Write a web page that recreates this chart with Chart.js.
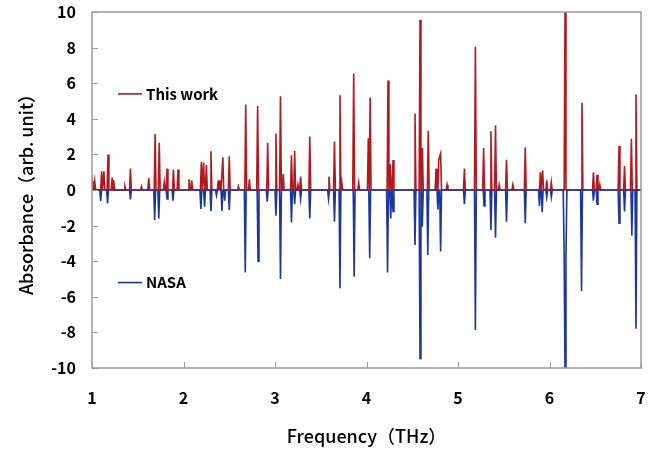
<!DOCTYPE html>
<html><head><meta charset="utf-8">
<script src="https://cdn.jsdelivr.net/npm/chart.js@4.4.1/dist/chart.umd.min.js"></script>
<style>html,body{margin:0;padding:0;background:#fff}#wrap{width:648px;height:454px}</style>
</head><body><div id="wrap"><canvas id="c" width="648" height="454"></canvas></div>
<script>
// ---- data ----
const seriesNames = ['This work', 'NASA'];
const xTicks = [1, 2, 3, 4, 5, 6, 7];
const yTicks = [-10, -8, -6, -4, -2, 0, 2, 4, 6, 8, 10];

const thisWorkFreq = [1.00,1.03,1.105,1.13,1.175,1.22,1.24,1.36,1.42,1.54,1.62,1.69,1.735,1.79,1.82,1.89,1.94,2.06,2.09,2.195,2.22,2.25,2.30,2.38,2.40,2.43,2.50,2.60,2.68,2.72,2.81,2.92,3.01,3.06,3.09,3.18,3.215,3.25,3.28,3.38,3.59,3.65,3.71,3.73,3.86,3.915,4.02,4.04,4.235,4.26,4.29,4.53,4.585,4.61,4.675,4.76,4.79,4.81,4.88,5.07,5.19,5.28,5.36,5.41,5.45,5.53,5.60,5.735,5.90,5.925,5.97,6.02,6.17,6.355,6.48,6.52,6.55,6.76,6.82,6.895,6.945];
const thisWorkAbs  = [0.5,0.5,1.05,1.05,2.0,0.7,0.55,0.2,1.2,0.2,0.67,3.15,2.66,0.45,1.2,1.15,1.15,0.6,0.55,1.57,1.55,1.4,2.17,0.55,0.55,1.84,1.9,0.2,4.8,0.6,4.72,2.66,3.18,5.26,0.9,1.95,2.2,0.3,0.75,3.0,0.75,2.73,5.32,0.4,6.55,0.4,2.9,5.2,6.15,1.45,1.69,4.3,9.57,2.36,3.33,1.2,1.7,2.05,0.3,1.2,8.05,2.36,3.3,3.63,0.3,1.7,0.3,2.4,1.0,1.1,0.55,0.45,10.5,4.9,1.0,0.85,0.3,2.47,1.35,2.88,5.36];

const nasaFreq = [1.095,1.17,1.42,1.685,1.73,1.82,1.885,2.19,2.23,2.30,2.36,2.42,2.45,2.50,2.675,2.815,2.915,3.01,3.06,3.18,3.215,3.28,3.38,3.585,3.65,3.71,3.865,4.035,4.23,4.265,4.29,4.53,4.585,4.61,4.67,4.78,4.81,5.07,5.19,5.285,5.36,5.41,5.53,5.735,5.89,5.92,5.97,6.02,6.16,6.17,6.18,6.35,6.48,6.52,6.76,6.82,6.90,6.945];
const nasaAbs  = [-0.62,-0.75,-0.53,-1.69,-1.6,-0.5,-0.6,-1.07,-0.94,-1.18,-0.3,-1.18,-0.6,-1.12,-4.63,-4.0,-0.65,-1.44,-5.0,-1.82,-0.8,-0.5,-1.6,-0.5,-1.78,-5.52,-4.87,-3.84,-4.63,-1.6,-1.2,-3.09,-9.46,-2.06,-3.65,-1.1,-3.46,-0.8,-7.87,-0.9,-2.25,-2.68,-1.78,-1.87,-0.9,-1.25,-0.4,-0.4,-3.6,-10.5,-3.6,-5.67,-0.6,-0.8,-1.87,-1.2,-2.57,-7.8];

// ---- build line traces (spike shape is a style constant) ----
const HALF_WIDTH = 0.01;
function buildTrace(freqs, vals) {
  const pts = [{x: xTicks[0], y: 0}];
  for (let i = 0; i < freqs.length; i++) {
    const f = freqs[i];
    const prev = i > 0 ? freqs[i - 1] : -Infinity;
    const next = i < freqs.length - 1 ? freqs[i + 1] : Infinity;
    if (f - prev > 2 * HALF_WIDTH) pts.push({x: f - HALF_WIDTH, y: 0});
    pts.push({x: f, y: vals[i]});
    if (next - f > 2 * HALF_WIDTH) pts.push({x: f + HALF_WIDTH, y: 0});
  }
  pts.push({x: xTicks[xTicks.length - 1], y: 0});
  return pts;
}

const RED = '#b01a1c', BLUE = '#1a3799';
const FONT = '"Noto Sans CJK JP", "Noto Sans", "Liberation Sans", sans-serif';

const framePlugin = {
  id: 'frame',
  afterDatasetsDraw(chart) {
    const {ctx, chartArea: a, scales} = chart;
    ctx.save();
    ctx.strokeStyle = '#9a9a9a';
    ctx.lineWidth = 1.5;
    ctx.strokeRect(a.left, a.top, a.right - a.left, a.bottom - a.top);
    ctx.lineWidth = 1;
    ctx.beginPath();
    yTicks.forEach(v => { const y = Math.round(scales.y.getPixelForValue(v)) + 0.5; ctx.moveTo(a.left, y); ctx.lineTo(a.left + 6, y); });
    xTicks.forEach(v => { const x = Math.round(scales.x.getPixelForValue(v)) + 0.5; ctx.moveTo(x, a.bottom); ctx.lineTo(x, a.bottom - 6); });
    ctx.stroke();
    // legend entries placed inside the plot
    const spots = [{ds: 0, yv: 5.4}, {ds: 1, yv: -5.2}];
    ctx.font = 'bold 15px ' + FONT;
    ctx.textBaseline = 'middle';
    ctx.fillStyle = '#000';
    spots.forEach(s => {
      const ds = chart.data.datasets[s.ds];
      const y = scales.y.getPixelForValue(s.yv);
      ctx.strokeStyle = ds.borderColor;
      ctx.lineWidth = 1.6;
      ctx.beginPath(); ctx.moveTo(a.left + 26, y); ctx.lineTo(a.left + 50, y); ctx.stroke();
      ctx.fillText(ds.label, a.left + 54, y);
    });
    ctx.restore();
  }
};

new Chart(document.getElementById('c'), {
  type: 'line',
  data: {
    datasets: [
      {label: seriesNames[0], data: buildTrace(thisWorkFreq, thisWorkAbs), borderColor: RED, borderWidth: 1.6, pointRadius: 0, tension: 0, order: 2},
      {label: seriesNames[1], data: buildTrace(nasaFreq, nasaAbs), borderColor: BLUE, borderWidth: 1.6, pointRadius: 0, tension: 0, order: 1}
    ]
  },
  options: {
    responsive: false,
    animation: false,
    layout: {padding: {top: 12, right: 7, left: 0, bottom: 0}},
    plugins: {legend: {display: false}, tooltip: {enabled: false}},
    scales: {
      x: {
        type: 'linear', min: 1, max: 7,
        afterBuildTicks: s => { s.ticks = xTicks.map(v => ({value: v})); },
        afterFit: s => { s.height = 86; s.paddingLeft = 0; s.paddingRight = 0; },
        grid: {display: false, drawTicks: false},
        border: {display: false},
        ticks: {padding: 20, color: '#000', font: {family: FONT, size: 16, weight: 'bold'}, maxRotation: 0},
        title: {display: true, text: 'Frequency（THz）', color: '#000', padding: {top: 0, bottom: 7}, font: {family: FONT, size: 18, weight: '500'}}
      },
      y: {
        min: -10, max: 10,
        afterBuildTicks: s => { s.ticks = yTicks.map(v => ({value: v})); },
        afterFit: s => { s.width = 92; s.paddingTop = 0; s.paddingBottom = 0; },
        grid: {display: false, drawTicks: false},
        border: {display: false},
        ticks: {padding: 16, color: '#000', font: {family: FONT, size: 16, weight: 'bold'}},
        title: {display: true, text: 'Absorbance（arb. unit）', color: '#000', padding: {top: 15, bottom: 0}, font: {family: FONT, size: 18, weight: '500'}}
      }
    }
  },
  plugins: [framePlugin]
});
</script>
</body></html>
